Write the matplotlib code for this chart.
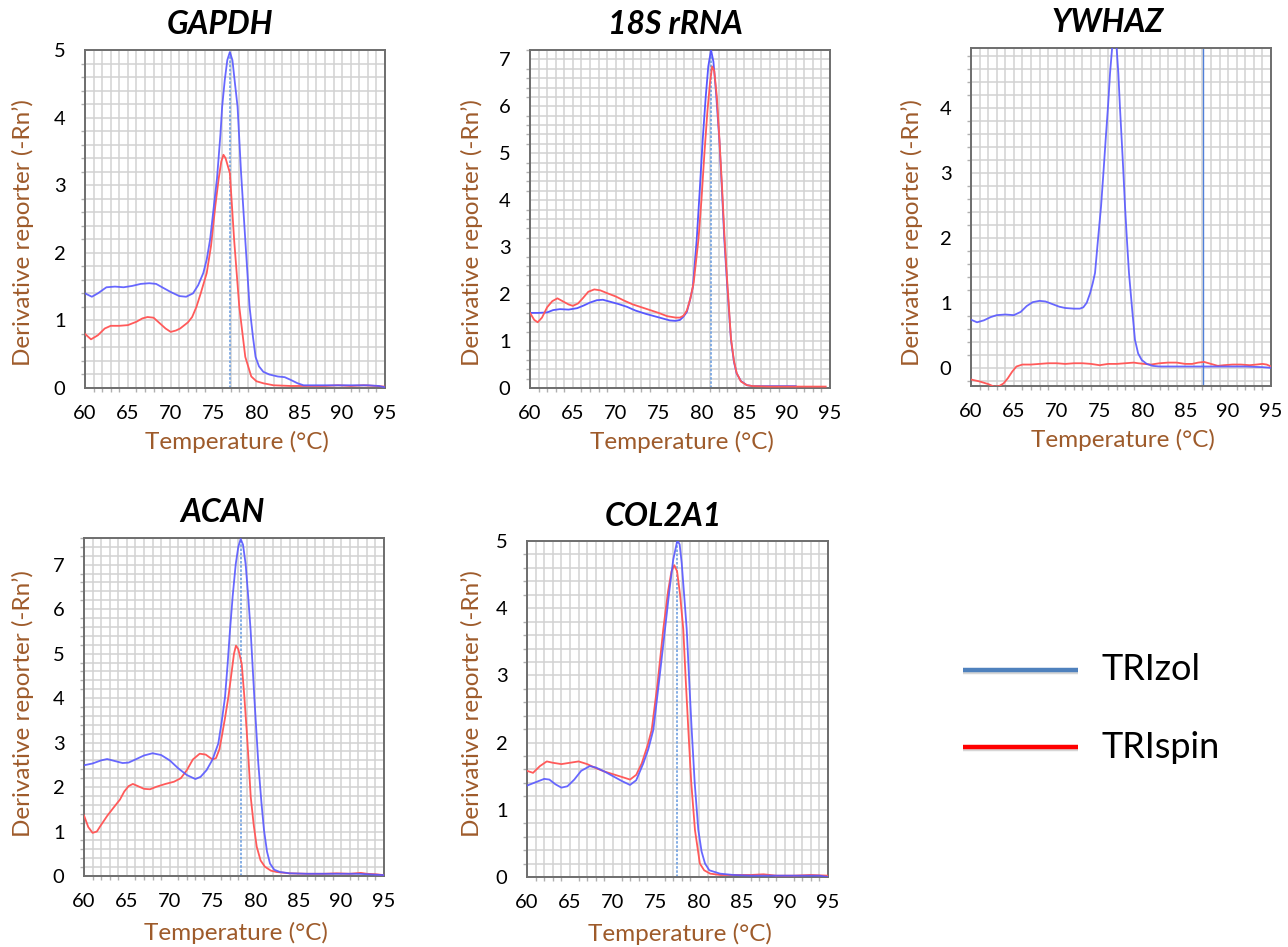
import matplotlib
matplotlib.use("Agg")
import matplotlib.pyplot as plt
from matplotlib.lines import Line2D
from matplotlib.ticker import MultipleLocator
import matplotlib.patheffects as pe

plt.rcParams['font.family'] = ['Lato', 'DejaVu Sans']

# ---------------- data ----------------
genes = ["GAPDH", "18S rRNA", "YWHAZ", "ACAN", "COL2A1"]
series_names = ["TRIzol", "TRIspin"]

# GAPDH
gapdh_trizol_t = [60, 60.8, 61.5, 62.5, 63.5, 64.5, 65.5, 66.5, 67.5, 68.3, 69, 70, 71, 71.8, 72.6, 73.2, 73.8, 74.2,
                  74.6, 75.0, 75.4, 75.8, 76.0, 76.3, 76.6, 76.9, 77.2, 77.5, 77.8, 78.2, 78.7, 79.2, 79.6, 79.9,
                  80.3, 80.8, 81.5, 82.5, 83.3, 84.0, 84.8, 85.5, 87, 89, 91, 93, 94.3, 95]
gapdh_trizol_v = [1.40, 1.35, 1.40, 1.49, 1.50, 1.49, 1.51, 1.54, 1.55, 1.54, 1.49, 1.42, 1.36, 1.35, 1.40, 1.52, 1.70,
                  1.90, 2.20, 2.65, 3.10, 3.75, 4.16, 4.55, 4.85, 4.97, 4.85, 4.50, 4.16, 3.20, 2.19, 1.20, 0.75,
                  0.46, 0.32, 0.24, 0.20, 0.17, 0.16, 0.12, 0.07, 0.04, 0.04, 0.04, 0.04, 0.04, 0.03, 0.01]
gapdh_trispin_t = [60, 60.7, 61.5, 62.3, 63, 64, 65, 66, 66.7, 67.3, 68, 68.7, 69.4, 70, 70.6, 71.1, 71.6, 72.0, 72.5,
                   73.0, 73.5, 74.2, 74.7, 75.2, 75.6, 75.9, 76.15, 76.4, 76.9, 77.4, 78.0, 78.7, 79.4, 80.0, 80.8,
                   82, 84, 86, 88, 89.5, 91, 92.5, 94, 95]
gapdh_trispin_v = [0.80, 0.72, 0.78, 0.88, 0.92, 0.92, 0.93, 0.98, 1.03, 1.05, 1.04, 0.96, 0.88, 0.83, 0.85, 0.88,
                   0.93, 0.97, 1.05, 1.20, 1.40, 1.70, 2.10, 2.69, 3.10, 3.35, 3.45, 3.40, 3.18, 2.19, 1.20, 0.46,
                   0.17, 0.10, 0.07, 0.04, 0.03, 0.03, 0.03, 0.04, 0.03, 0.04, 0.03, 0.02]

# 18S rRNA
s18_trizol_t = [60, 61, 62, 62.7, 63.5, 64.5, 65.5, 66.3, 67, 67.8, 68.5, 69.3, 70.3, 71.3, 72.3, 73.5, 74.5, 75.5,
                76.3, 77.0, 77.5, 77.9, 78.3, 78.7, 79.0, 79.45, 79.8, 80.15, 80.5, 80.8, 81.12, 81.4, 81.7, 82.09,
                82.4, 82.67, 83.0, 83.45, 83.8, 84.11, 84.6, 85.3, 86, 88, 90, 91]
s18_trizol_v = [1.60, 1.60, 1.61, 1.66, 1.68, 1.67, 1.70, 1.76, 1.82, 1.87, 1.88, 1.84, 1.79, 1.73, 1.65, 1.58, 1.53,
                1.48, 1.44, 1.43, 1.45, 1.52, 1.62, 1.90, 2.15, 3.16, 4.20, 5.29, 6.20, 6.85, 7.20, 6.95, 6.30, 5.29,
                4.20, 3.16, 2.20, 1.02, 0.55, 0.31, 0.15, 0.06, 0.04, 0.04, 0.04, 0.04]
s18_trispin_t = [60, 60.5, 60.9, 61.4, 62, 62.6, 63.2, 63.8, 64.5, 65.0, 65.6, 66.2, 66.8, 67.5, 68.2, 69, 70, 71, 72,
                 73, 74, 75, 76, 77, 77.5, 77.9, 78.3, 78.7, 79.1, 79.65, 80.0, 80.35, 80.7, 81.0, 81.25, 81.5, 81.8,
                 82.1, 82.4, 82.7, 83.0, 83.45, 83.8, 84.11, 84.6, 85.3, 86, 88, 90, 92, 94.5]
s18_trispin_v = [1.60, 1.45, 1.40, 1.50, 1.72, 1.85, 1.91, 1.85, 1.78, 1.75, 1.80, 1.92, 2.05, 2.10, 2.08, 2.02, 1.95,
                 1.86, 1.78, 1.72, 1.66, 1.60, 1.53, 1.50, 1.50, 1.54, 1.65, 1.90, 2.25, 3.16, 4.00, 5.00, 5.90, 6.50,
                 6.85, 6.75, 6.20, 5.30, 4.30, 3.20, 2.30, 1.05, 0.57, 0.32, 0.14, 0.06, 0.04, 0.03, 0.03, 0.03, 0.03]

# YWHAZ
ywhaz_trizol_t = [60, 60.7, 61.5, 62.3, 63, 64, 65, 65.8, 66.5, 67.2, 68, 68.7, 69.5, 70.3, 71, 72, 72.7, 73.1, 73.5,
                  73.9, 74.2, 74.47, 74.8, 75.17, 75.45, 75.71, 76.0, 76.22, 76.45, 76.7, 76.95, 77.19, 77.38, 77.58,
                  77.78, 77.97, 78.2, 78.43, 78.8, 79.13, 79.5, 79.92, 80.5, 81.2, 82, 84, 86, 88, 90, 92, 94, 95]
ywhaz_trizol_v = [0.74, 0.70, 0.73, 0.78, 0.81, 0.82, 0.81, 0.86, 0.95, 1.01, 1.03, 1.02, 0.98, 0.94, 0.92, 0.91,
                  0.91, 0.93, 1.00, 1.15, 1.30, 1.46, 1.95, 2.48, 3.00, 3.51, 4.05, 4.53, 4.90, 5.05, 5.00, 4.53,
                  4.00, 3.51, 3.00, 2.48, 1.95, 1.46, 0.90, 0.43, 0.22, 0.12, 0.06, 0.03, 0.02, 0.02, 0.02, 0.02,
                  0.02, 0.02, 0.01, 0.0]
ywhaz_trispin_t = [60, 61, 62, 62.7, 63.3, 63.8, 64.3, 64.8, 65.3, 66, 67, 68, 69, 70, 71, 72, 73, 74, 75, 76, 77, 78,
                   79, 79.5, 80.2, 81, 82, 83, 84, 85, 85.8, 86.5, 87.2, 88, 88.8, 89.5, 90.5, 91.5, 92.5, 93.3, 94,
                   94.5, 95]
ywhaz_trispin_v = [-0.18, -0.21, -0.25, -0.29, -0.28, -0.24, -0.16, -0.06, 0.02, 0.05, 0.05, 0.06, 0.07, 0.07, 0.06,
                   0.07, 0.07, 0.06, 0.04, 0.06, 0.06, 0.07, 0.08, 0.07, 0.06, 0.05, 0.07, 0.08, 0.08, 0.06, 0.06,
                   0.08, 0.09, 0.06, 0.03, 0.04, 0.05, 0.05, 0.04, 0.05, 0.06, 0.05, 0.02]

# ACAN
acan_trizol_t = [60, 61, 62, 62.7, 63.5, 64.5, 65.2, 66, 67, 68, 69, 70, 71, 72, 73, 73.6, 74.3, 75.0, 75.67, 76.05,
                 76.45, 76.75, 77.03, 77.35, 77.7, 78.0, 78.28, 78.55, 78.86, 79.15, 79.44, 79.87, 80.34, 80.7, 81.0,
                 81.35, 81.7, 82.2, 82.87, 84, 86, 88, 90, 92, 93, 94, 95]
acan_trizol_v = [2.49, 2.53, 2.60, 2.63, 2.59, 2.54, 2.55, 2.62, 2.71, 2.76, 2.72, 2.60, 2.42, 2.27, 2.18, 2.23, 2.38,
                 2.62, 2.98, 3.45, 4.02, 4.75, 5.52, 6.30, 7.01, 7.40, 7.58, 7.45, 7.01, 6.30, 5.52, 4.02, 2.52, 1.65,
                 1.03, 0.55, 0.28, 0.14, 0.09, 0.06, 0.05, 0.05, 0.05, 0.05, 0.04, 0.03, 0.02]
acan_trispin_t = [60, 60.5, 61, 61.5, 62, 62.7, 63.5, 64.2, 64.7, 65.2, 65.7, 66.3, 67, 67.7, 68.5, 69.5, 70.5, 71.3,
                  72, 72.7, 73.5, 74.2, 74.7, 75.0, 75.4, 75.8, 76.06, 76.45, 76.84, 77.2, 77.5, 77.73, 78.0, 78.4,
                  78.7, 78.98, 79.2, 79.45, 79.8, 80.15, 80.6, 81.1, 81.8, 82.48, 84, 86, 88, 89.5, 91, 92.3, 93, 94, 95]
acan_trispin_v = [1.36, 1.10, 0.97, 1.00, 1.15, 1.35, 1.55, 1.72, 1.90, 2.02, 2.07, 2.02, 1.96, 1.95, 2.01, 2.07, 2.12,
                  2.20, 2.38, 2.62, 2.75, 2.73, 2.66, 2.62, 2.65, 2.85, 3.12, 3.55, 4.02, 4.55, 5.00, 5.18, 5.10, 4.77,
                  4.05, 3.27, 2.60, 1.78, 1.15, 0.66, 0.35, 0.21, 0.12, 0.09, 0.06, 0.05, 0.05, 0.06, 0.05, 0.07, 0.05,
                  0.04, 0.02]

# COL2A1
col2a1_trizol_t = [60, 61, 62, 62.6, 63.3, 64, 64.7, 65.5, 66.3, 67.3, 68, 69, 70, 71, 71.98, 72.7, 73.52, 74.1, 74.69,
                   75.3, 76.05, 76.5, 77.0, 77.48, 77.75, 77.99, 78.3, 78.57, 78.85, 79.15, 79.5, 79.92, 80.3, 80.7,
                   81.2, 82.44, 84, 86, 88, 90, 92, 94, 95]
col2a1_trizol_v = [1.36, 1.41, 1.46, 1.45, 1.38, 1.33, 1.35, 1.45, 1.58, 1.65, 1.63, 1.57, 1.50, 1.43, 1.37, 1.44, 1.69,
                   1.90, 2.19, 2.85, 3.69, 4.20, 4.72, 5.01, 4.95, 4.67, 4.15, 3.69, 2.95, 2.19, 1.40, 0.70, 0.38, 0.20,
                   0.10, 0.05, 0.03, 0.02, 0.02, 0.02, 0.02, 0.02, 0.0]
col2a1_trispin_t = [60, 60.7, 61.5, 62.3, 63, 64, 65, 66, 67, 68, 69, 70, 71, 71.98, 72.7, 73.34, 74.0, 74.5, 75.2,
                    75.85, 76.4, 76.8, 77.13, 77.45, 77.8, 78.17, 78.45, 78.76, 79.1, 79.53, 80.1, 80.6, 81.3, 82.5,
                    84, 86, 87.5, 89, 91, 93, 95]
col2a1_trispin_v = [1.58, 1.55, 1.65, 1.72, 1.70, 1.68, 1.70, 1.72, 1.68, 1.62, 1.57, 1.53, 1.49, 1.45, 1.52, 1.69,
                    1.95, 2.19, 2.90, 3.69, 4.25, 4.55, 4.64, 4.55, 4.20, 3.69, 2.95, 2.19, 1.40, 0.70, 0.20, 0.10,
                    0.05, 0.03, 0.03, 0.03, 0.04, 0.02, 0.02, 0.03, 0.02]

# melt-peak marker temperature per gene
marker_temps = [76.9, 81.15, 87.05, 78.35, 77.45]
y_limits = [(0, 5.0), (0, 7.2), (-0.28, 4.92), (0, 7.6), (0, 5.0)]
y_tick_max = [5, 7, 4, 7, 5]

data = [
    ((gapdh_trizol_t, gapdh_trizol_v), (gapdh_trispin_t, gapdh_trispin_v)),
    ((s18_trizol_t, s18_trizol_v), (s18_trispin_t, s18_trispin_v)),
    ((ywhaz_trizol_t, ywhaz_trizol_v), (ywhaz_trispin_t, ywhaz_trispin_v)),
    ((acan_trizol_t, acan_trizol_v), (acan_trispin_t, acan_trispin_v)),
    ((col2a1_trizol_t, col2a1_trizol_v), (col2a1_trispin_t, col2a1_trispin_v)),
]

# ---------------- layout ----------------
W, H = 1288, 947
fig = plt.figure(figsize=(W / 100, H / 100), dpi=100)

# axes boxes in pixels: left, top, right, bottom
boxes = [(85, 50, 385, 388), (530, 50, 830, 388), (971, 48, 1271, 386),
         (84, 538, 384, 876), (527, 541, 828, 877)]
title_x = [0.45, 0.483, 0.457, 0.463, 0.452]
ylabel_x = [-0.17, -0.157, -0.16, -0.167, -0.146]
ylabel_y = [0.46, 0.46, 0.455, 0.51, 0.515]
xlabel_off = [43, 43, 43, 46, 46]

brown = '#9E5B2B'
blue = '#5858FF'
red = '#FF5A5A'
marker_blue = '#6FA0E0'

for i, gene in enumerate(genes):
    l, t, r, b = boxes[i]
    ax = fig.add_axes([l / W, 1 - b / H, (r - l) / W, (b - t) / H])
    (bt, bv), (rt, rv) = data[i]
    ax.set_xlim(60, 95)
    ax.set_ylim(*y_limits[i])
    ax.xaxis.set_major_locator(MultipleLocator(5))
    ax.xaxis.set_minor_locator(MultipleLocator(1))
    ax.set_yticks(list(range(0, y_tick_max[i] + 1)))
    ax.yaxis.set_minor_locator(MultipleLocator(0.2))
    ax.grid(True, which='both', color='#d2d2d2', linewidth=1.1)
    ax.set_axisbelow(True)
    for s in ax.spines.values():
        s.set_color('#6e6e6e')
        s.set_linewidth(1.4)
    ax.tick_params(axis='both', which='major', length=0, labelsize=14.5, colors='black')
    ax.tick_params(axis='x', which='major', pad=12)
    ax.tick_params(axis='y', which='major', pad=14)
    ax.tick_params(axis='both', which='minor', length=3, color='#b0b0b0', width=1)

    if i == 2:
        ax.axvline(marker_temps[i], color='#4F7FD8', linewidth=1.0)
    else:
        ax.axvline(marker_temps[i], color=marker_blue, linewidth=1.2, linestyle=(0, (1.5, 1)))

    if i == 1:
        ax.plot(bt, bv, color=blue, linewidth=1.3, zorder=3)
        ax.plot(rt, rv, color=red, linewidth=1.3, zorder=4)
    else:
        ax.plot(rt, rv, color=red, linewidth=1.3, zorder=3)
        ax.plot(bt, bv, color=blue, linewidth=1.3, zorder=4, alpha=0.9)

    ax.text(title_x[i], 1.0 + 25 / (b - t), gene, transform=ax.transAxes, ha='center', va='center',
            fontsize=23, fontweight='bold', fontstyle='italic', color='black')
    ax.set_xlabel("Temperature (°C)", fontsize=17.5, color=brown)
    ax.xaxis.set_label_coords(0.5 + 2 / 300, -xlabel_off[i] / (b - t), transform=ax.transAxes)
    ax.set_ylabel("Derivative reporter (-Rn\u2019)", fontsize=17.5, color=brown)
    ax.yaxis.set_label_coords(ylabel_x[i], ylabel_y[i], transform=ax.transAxes)

# ---------------- legend ----------------
leg_colors = ['#4F81BD', '#FF0000']
leg_y = [670, 747]
for name, c, y in zip(series_names, leg_colors, leg_y):
    ln = Line2D([963 / W, 1078 / W], [1 - y / H, 1 - y / H], transform=fig.transFigure,
                color=c, linewidth=3.2, solid_capstyle='butt',
                path_effects=[pe.SimpleLineShadow(offset=(0, -1.5), shadow_color='#999999', alpha=0.4), pe.Normal()])
    fig.add_artist(ln)
    fig.text(1102 / W, 1 - y / H, name, fontsize=26, color='black', ha='left', va='center')

fig.savefig("out.png", dpi=100, facecolor='white')
